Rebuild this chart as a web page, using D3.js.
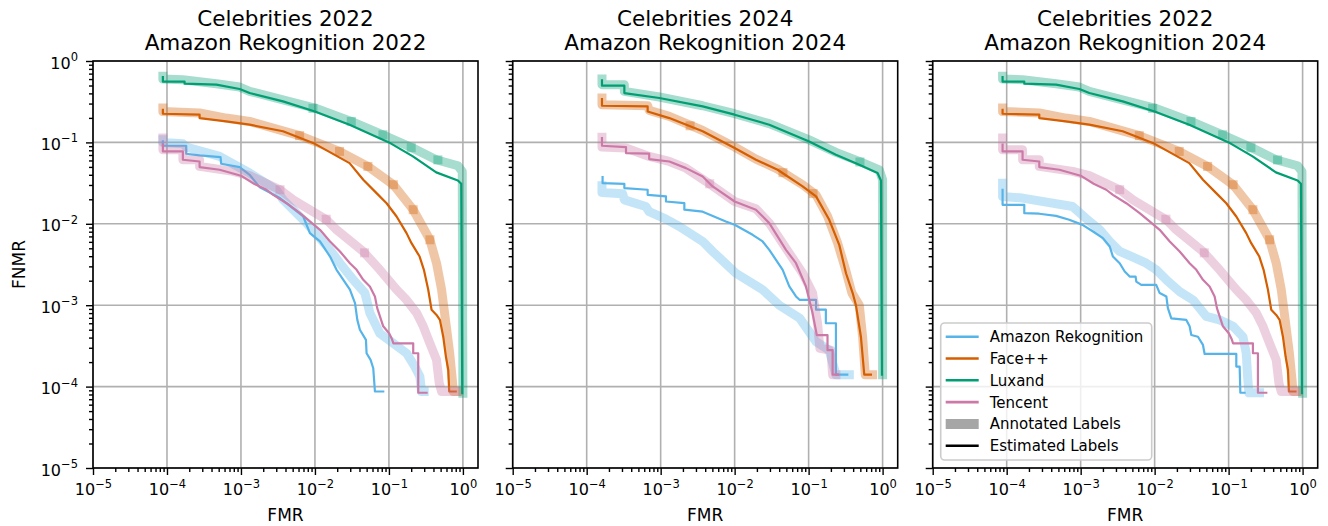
<!DOCTYPE html>
<html>
<head>
<meta charset="utf-8">
<script src="https://cdn.jsdelivr.net/npm/d3@7"></script>
<style>
  html, body { margin: 0; padding: 0; background: #fff; }
  svg { display: block; font-family: "DejaVu Sans", sans-serif; }
</style>
</head>
<body>
<svg id="chart" width="1328" height="526"></svg>
<script>
// ---- data: [FMR, FNMR] ----
const vendors = ["Amazon Rekognition", "Face++", "Luxand", "Tencent"];
const vendorColors = ["#56B4E9", "#D55E00", "#009E73", "#CC79A7"];
const titles = [
  ["Celebrities 2022", "Amazon Rekognition 2022"],
  ["Celebrities 2024", "Amazon Rekognition 2024"],
  ["Celebrities 2022", "Amazon Rekognition 2024"]
];
const decadeTicks = [1e-5, 1e-4, 1e-3, 1e-2, 1e-1, 1];
const tickExponents = ["\u22125", "\u22124", "\u22123", "\u22122", "\u22121", "0"];

// Celebrities 2022 (shared by panels 1 and 3)
const luxandC22Est = [[8.8e-5,0.636],[8.8e-5,0.557],[1.73e-4,0.557],[1.73e-4,0.526],[4.65e-4,0.512],[9.6e-4,0.453],[1.31e-3,0.404],[3.7e-3,0.319],[0.01,0.24],[0.0294,0.165],[0.1,0.1],[0.211,0.0673],[0.436,0.0428],[0.855,0.0341],[0.95,0.031],[0.98,8.3e-5]];
const luxandC22Annot = [[8.8e-5,0.648],[8.8e-5,0.6],[1.64e-4,0.589],[4.65e-4,0.526],[9.6e-4,0.479],[1.31e-3,0.424],[0.01,0.264],[0.031,0.181],[0.083,0.124],[0.211,0.085],[0.436,0.0612],[0.855,0.0516],[0.98,0.044],[1.0,8.3e-5]];
const luxandC22Marks = [[9.4e-3,0.262],[0.031,0.181],[0.083,0.124],[0.2,0.086],[0.459,0.061]];

const faceppC22Est = [[8.8e-5,0.252],[8.8e-5,0.225],[2.76e-4,0.219],[2.76e-4,0.199],[6.3e-4,0.181],[1.31e-3,0.165],[3.7e-3,0.137],[0.01,0.096],[0.0294,0.0557],[0.045,0.0348],[0.068,0.0238],[0.093,0.0179],[0.127,0.0123],[0.173,0.00768],[0.202,0.00578],[0.26,0.00396],[0.297,0.00272],[0.34,0.00155],[0.377,8.8e-4],[0.44,7.6e-4],[0.489,6.6e-4],[0.542,4.1e-4],[0.589,2.34e-4],[0.634,1.6e-4],[0.653,8.7e-5],[0.8,8.7e-5]];
const faceppC22Annot = [[8.8e-5,0.264],[8.8e-5,0.24],[2.76e-4,0.23],[6.3e-4,0.199],[1.31e-3,0.181],[6.2e-3,0.121],[0.0215,0.0775],[0.052,0.0507],[0.115,0.0302],[0.213,0.0149],[0.358,0.00636],[0.44,0.00328],[0.515,0.00155],[0.589,6.0e-4],[0.663,2.57e-4],[0.72,1.2e-4],[0.74,8.7e-5],[0.85,8.7e-5]];
const faceppC22Marks = [[6.2e-3,0.121],[0.0215,0.0775],[0.052,0.0507],[0.115,0.0302],[0.213,0.0149],[0.358,0.00636]];

const tencentC22Est = [[8.8e-5,0.094],[8.8e-5,0.0775],[1.64e-4,0.0775],[1.64e-4,0.0612],[2.76e-4,0.0583],[2.76e-4,0.0498],[5.15e-4,0.0461],[1e-3,0.039],[1.5e-3,0.031],[2.22e-3,0.0262],[2.73e-3,0.0227],[4.14e-3,0.0179],[6.27e-3,0.0135],[8.55e-3,0.0107],[0.0117,0.00844],[0.016,0.00607],[0.0218,0.00457],[0.0297,0.00328],[0.0366,0.00272],[0.045,0.00205],[0.0553,0.0017],[0.0647,0.00128],[0.0695,9.2e-4],[0.0838,5.5e-4],[0.101,4.5e-4],[0.109,3.9e-4],[0.115,3.4e-4],[0.213,3.4e-4],[0.213,2.57e-4],[0.249,2.57e-4],[0.249,8.4e-5],[0.323,8.4e-5]];
const tencentC22Annot = [[8.8e-5,0.113],[8.8e-5,0.0813],[1.64e-4,0.0813],[1.64e-4,0.0612],[2.76e-4,0.0612],[2.76e-4,0.0507],[7.8e-4,0.044],[1.31e-3,0.039],[3.37e-3,0.0262],[5.09e-3,0.0197],[0.0144,0.0112],[0.0196,0.00844],[0.045,0.00457],[0.0755,0.00272],[0.127,0.00155],[0.173,0.00116],[0.237,8.0e-4],[0.291,5.5e-4],[0.358,3.4e-4],[0.44,2.13e-4],[0.479,1.1e-4],[0.515,8.7e-5],[0.82,8.7e-5]];
const tencentC22Marks = [[3.37e-3,0.0262],[0.0142,0.0114],[0.0469,0.0044]];

// panel 1: Amazon Rekognition 2022
const amazonP1Est = [[8.8e-5,0.103],[8.8e-5,0.091],[1.82e-4,0.091],[1.82e-4,0.0726],[2.76e-4,0.0692],[5.3e-4,0.066],[5.4e-4,0.0547],[9.6e-4,0.0498],[1.31e-3,0.04],[1.8e-3,0.028],[3.37e-3,0.0207],[6.95e-3,0.0123],[8.55e-3,0.00768],[0.0117,0.00607],[0.016,0.00396],[0.0196,0.00272],[0.0242,0.00205],[0.0297,0.00155],[0.0348,0.00106],[0.0374,6.6e-4],[0.0405,5.0e-4],[0.0489,3.75e-4],[0.0499,2.57e-4],[0.0565,2.13e-4],[0.0614,1.68e-4],[0.0647,8.7e-5],[0.0838,8.7e-5]];
const amazonP1Annot = [[8.8e-5,0.108],[8.8e-5,0.1],[1.64e-4,0.096],[1.82e-4,0.0877],[5.15e-4,0.0673],[8.65e-4,0.0516],[1.31e-3,0.042],[3.0e-3,0.0262],[3.73e-3,0.0197],[7.7e-3,0.0102],[0.016,0.00479],[0.0218,0.00328],[0.033,0.00205],[0.0474,0.00141],[0.0553,8.0e-4],[0.0755,4.5e-4],[0.115,3.4e-4],[0.173,2.57e-4],[0.224,1.76e-4],[0.262,1.33e-4],[0.276,8.7e-5],[0.3,8.7e-5]];

// panel 2: Celebrities 2024 / Amazon Rekognition 2024
const luxandP2Est = [[1.61e-4,0.578],[1.61e-4,0.497],[3.23e-4,0.497],[3.23e-4,0.404],[9.6e-4,0.351],[3.7e-3,0.277],[0.01,0.219],[0.0294,0.165],[0.1,0.103],[0.234,0.0705],[0.484,0.0531],[0.855,0.042],[0.95,0.0341],[0.98,1.4e-4]];
const luxandP2Annot = [[1.61e-4,0.6],[1.61e-4,0.512],[3.23e-4,0.512],[3.23e-4,0.424],[9.6e-4,0.361],[3.7e-3,0.282],[0.01,0.225],[0.0294,0.17],[0.1,0.108],[0.234,0.0754],[0.484,0.0584],[0.9,0.0461],[1.0,0.0348],[1.0,1.4e-4]];
const luxandP2Marks = [[0.494,0.0575]];
const faceppP2Est = [[1.61e-4,0.341],[1.61e-4,0.282],[6.67e-4,0.277],[6.67e-4,0.24],[1.31e-3,0.199],[3.7e-3,0.137],[0.01,0.0852],[0.0194,0.0612],[0.0381,0.0461],[0.083,0.0288],[0.126,0.0217],[0.19,0.0112],[0.26,0.00547],[0.32,0.00247],[0.394,0.00141],[0.436,0.001],[0.509,4.1e-4],[0.565,1.4e-4],[0.695,1.4e-4]];
const faceppP2Annot = [[1.61e-4,0.351],[1.61e-4,0.29],[6.67e-4,0.282],[7.0e-4,0.247],[1.31e-3,0.209],[3.7e-3,0.14],[0.01,0.0877],[0.0194,0.0624],[0.0381,0.047],[0.083,0.0302],[0.126,0.0227],[0.181,0.0123],[0.247,0.00578],[0.313,0.00282],[0.385,0.00141],[0.484,0.001],[0.537,4.1e-4],[0.583,1.4e-4],[0.733,1.4e-4]];
const faceppP2Marks = [[2.5e-3,0.16],[0.045,0.0425],[0.115,0.0235]];
const tencentP2Est = [[1.61e-4,0.113],[1.61e-4,0.091],[3.4e-4,0.0877],[3.4e-4,0.0739],[7.0e-4,0.0726],[7.0e-4,0.0624],[1.31e-3,0.0583],[2.2e-3,0.0483],[3.7e-3,0.0382],[5.05e-3,0.0288],[0.01,0.0188],[0.0194,0.0149],[0.0294,0.0102],[0.0494,0.00479],[0.0675,0.00328],[0.092,0.0017],[0.113,8.0e-4],[0.129,4.3e-4],[0.18,4.3e-4],[0.18,2.8e-4],[0.211,2.8e-4],[0.211,1.4e-4],[0.249,1.4e-4]];
const tencentP2Annot = [[1.61e-4,0.116],[1.61e-4,0.0877],[3.4e-4,0.0852],[7.0e-4,0.0673],[1.31e-3,0.0583],[2.2e-3,0.0483],[4.1e-3,0.0332],[0.01,0.0188],[0.0194,0.0153],[0.0294,0.0102],[0.0494,0.00502],[0.083,0.00247],[0.113,0.00141],[0.132,6.0e-4],[0.142,2.96e-4],[0.2,2.8e-4],[0.211,1.4e-4],[0.234,1.4e-4]];
const tencentP2Marks = [[4.6e-3,0.031]];
const amazonP2Est = [[1.64e-4,0.0375],[1.64e-4,0.0316],[3.23e-4,0.031],[3.23e-4,0.0275],[6.67e-4,0.0262],[6.67e-4,0.0227],[1.18e-3,0.0217],[1.18e-3,0.0188],[2.09e-3,0.0179],[2.09e-3,0.0149],[3.7e-3,0.0141],[7.6e-3,0.0107],[0.01,0.00972],[0.0175,0.00732],[0.0239,0.00607],[0.0294,0.00479],[0.0362,0.00361],[0.0446,0.00272],[0.0548,0.0017],[0.0675,0.00128],[0.076,0.00116],[0.126,0.00116],[0.126,8.8e-4],[0.171,8.8e-4],[0.171,6.0e-4],[0.234,6.0e-4],[0.234,1.4e-4],[0.333,1.4e-4]];
const amazonP2Annot = [[1.61e-4,0.0293],[1.61e-4,0.0243],[3.06e-4,0.0234],[3.23e-4,0.0197],[6.3e-4,0.0163],[7.0e-4,0.0141],[1.18e-3,0.0114],[1.79e-3,0.00927],[3.7e-3,0.00607],[5.05e-3,0.00457],[0.0104,0.00247],[0.0239,0.00155],[0.0402,0.001],[0.076,6.9e-4],[0.126,3.57e-4],[0.19,2.8e-4],[0.234,1.4e-4],[0.355,1.4e-4]];

// panel 3: Amazon Rekognition 2024 on Celebrities 2022
const amazonP3Est = [[8.8e-5,0.0262],[8.8e-5,0.0171],[1.73e-4,0.0171],[1.73e-4,0.0135],[2.76e-4,0.0133],[4.65e-4,0.0125],[7.0e-4,0.0112],[1.06e-3,0.0097],[1.47e-3,0.00805],[2.0e-3,0.00667],[2.47e-3,0.00526],[2.73e-3,0.00396],[3.37e-3,0.00328],[3.94e-3,0.00259],[4.6e-3,0.00225],[5.53e-3,0.00225],[5.65e-3,0.00195],[6.6e-3,0.00178],[0.0105,0.00178],[0.0117,0.00141],[0.0144,0.00128],[0.0151,9.2e-4],[0.0168,6.9e-4],[0.0268,6.6e-4],[0.0297,5.5e-4],[0.0313,4.3e-4],[0.0385,4.1e-4],[0.045,3.25e-4],[0.0474,2.52e-4],[0.127,2.52e-4],[0.127,1.76e-4],[0.141,1.76e-4],[0.144,8.4e-5],[0.164,8.4e-5]];
const amazonP3Annot = [[8.8e-5,0.0316],[8.8e-5,0.0217],[1.64e-4,0.0207],[7.8e-4,0.0163],[1.2e-3,0.0115],[1.81e-3,0.00844],[2.47e-3,0.00607],[3.37e-3,0.00457],[5.09e-3,0.00389],[7.7e-3,0.00328],[0.0105,0.00272],[0.0144,0.00205],[0.0218,0.00147],[0.033,0.00116],[0.0499,7.3e-4],[0.0755,6.6e-4],[0.115,5.5e-4],[0.156,4.1e-4],[0.173,2.57e-4],[0.182,1.21e-4],[0.188,8.4e-5],[0.262,8.4e-5]];

const panels = [
  { title: titles[0], showY: true,
    annot: [amazonP1Annot, faceppC22Annot, luxandC22Annot, tencentC22Annot],
    est: [amazonP1Est, faceppC22Est, luxandC22Est, tencentC22Est],
    marks: [[], faceppC22Marks, luxandC22Marks, tencentC22Marks] },
  { title: titles[1], showY: false,
    annot: [amazonP2Annot, faceppP2Annot, luxandP2Annot, tencentP2Annot],
    est: [amazonP2Est, faceppP2Est, luxandP2Est, tencentP2Est],
    marks: [[], faceppP2Marks, luxandP2Marks, tencentP2Marks] },
  { title: titles[2], showY: false, legend: true,
    annot: [amazonP3Annot, faceppC22Annot, luxandC22Annot, tencentC22Annot],
    est: [amazonP3Est, faceppC22Est, luxandC22Est, tencentC22Est],
    marks: [[], faceppC22Marks, luxandC22Marks, tencentC22Marks] }
];

// ---- layout ----
const svg = d3.select("#chart");
const lefts = [93, 512.7, 932.7];
const plotW = 385, plotTop = 61, plotH = 407;
const annotW = 9, estW = 2.2, annotAlpha = 0.35;

const minorTicks = [];
for (let e = -5; e <= 0; e++) for (let m = 2; m <= 9; m++) minorTicks.push(m * Math.pow(10, e));

function expLabel(sel, exp) {
  sel.text(null);
  sel.append("tspan").text("10");
  sel.append("tspan").attr("dy", -7.5).attr("font-size", 11.5).text(exp);
}

panels.forEach((p, i) => {
  const x0 = lefts[i];
  const x = d3.scaleLog().domain([1e-5, 1.6]).range([x0, x0 + plotW]);
  const y = d3.scaleLog().domain([1e-5, 1]).range([plotTop + plotH, plotTop]);
  const g = svg.append("g");

  g.append("clipPath").attr("id", "clip" + i)
    .append("rect").attr("x", x0).attr("y", plotTop).attr("width", plotW).attr("height", plotH);

  // grid
  g.append("g").selectAll("line").data(decadeTicks).join("line")
    .attr("x1", d => x(d)).attr("x2", d => x(d)).attr("y1", plotTop).attr("y2", plotTop + plotH)
    .attr("stroke", "#b0b0b0").attr("stroke-width", 1.6);
  g.append("g").selectAll("line").data(decadeTicks).join("line")
    .attr("x1", x0).attr("x2", x0 + plotW).attr("y1", d => y(d)).attr("y2", d => y(d))
    .attr("stroke", "#b0b0b0").attr("stroke-width", 1.6);

  // curves
  const line = d3.line().x(d => x(d[0])).y(d => y(d[1]));
  const curves = g.append("g").attr("clip-path", `url(#clip${i})`);
  vendors.forEach((v, k) => {
    curves.append("path").attr("d", line(p.annot[k]))
      .attr("fill", "none").attr("stroke", vendorColors[k])
      .attr("stroke-opacity", annotAlpha).attr("stroke-width", annotW)
      .attr("stroke-linecap", "square").attr("stroke-linejoin", "round");
    curves.append("g").selectAll("rect").data(p.marks[k]).join("rect")
      .attr("x", d => x(d[0]) - annotW / 2).attr("y", d => y(d[1]) - annotW / 2)
      .attr("width", annotW).attr("height", annotW)
      .attr("fill", vendorColors[k]).attr("fill-opacity", annotAlpha);
    curves.append("path").attr("d", line(p.est[k]))
      .attr("fill", "none").attr("stroke", vendorColors[k])
      .attr("stroke-width", estW)
      .attr("stroke-linecap", "square").attr("stroke-linejoin", "round");
  });

  // axes
  const xMajor = g.append("g").attr("transform", `translate(0,${plotTop + plotH})`)
    .call(d3.axisBottom(x).tickValues(decadeTicks).tickSize(7).tickPadding(6));
  xMajor.selectAll(".tick text")
    .attr("font-size", 16).attr("font-family", "DejaVu Sans").attr("fill", "#000")
    .attr("dy", null).attr("y", 27)
    .each(function(d, j) { expLabel(d3.select(this), tickExponents[j]); });
  g.append("g").attr("transform", `translate(0,${plotTop + plotH})`)
    .call(d3.axisBottom(x).tickValues(minorTicks.filter(v => v <= 1.6)).tickSize(4).tickFormat(""));

  const yMajor = g.append("g").attr("transform", `translate(${x0},0)`)
    .call(d3.axisLeft(y).tickValues(decadeTicks).tickSize(7));
  if (p.showY) {
    yMajor.selectAll(".tick text")
      .attr("font-size", 16).attr("font-family", "DejaVu Sans").attr("fill", "#000")
      .attr("dy", null).attr("x", -15).attr("y", 7)
      .each(function(d, j) { expLabel(d3.select(this), tickExponents[j]); });
  } else {
    yMajor.selectAll(".tick text").remove();
  }
  g.append("g").attr("transform", `translate(${x0},0)`)
    .call(d3.axisLeft(y).tickValues(minorTicks.filter(v => v < 1)).tickSize(4).tickFormat(""));

  g.selectAll(".domain").remove();
  g.selectAll(".tick line").attr("stroke", "#000").attr("stroke-width", 1.4);

  // spines
  g.append("rect").attr("x", x0).attr("y", plotTop).attr("width", plotW).attr("height", plotH)
    .attr("fill", "none").attr("stroke", "#000").attr("stroke-width", 1.6);

  // titles and labels
  const cx = x0 + plotW / 2;
  g.append("text").attr("x", cx).attr("y", 26).attr("text-anchor", "middle")
    .attr("font-size", 21.5).text(p.title[0]);
  g.append("text").attr("x", cx).attr("y", 50).attr("text-anchor", "middle")
    .attr("font-size", 21.5).text(p.title[1]);
  g.append("text").attr("x", cx).attr("y", 521).attr("text-anchor", "middle")
    .attr("font-size", 17).text("FMR");

  if (p.legend) {
    const lx = x0 + 8, ly = 323;
    const lg = g.append("g");
    lg.append("rect").attr("x", lx).attr("y", ly).attr("width", 211).attr("height", 137)
      .attr("rx", 4).attr("fill", "#fff").attr("fill-opacity", 0.8)
      .attr("stroke", "#cccccc").attr("stroke-width", 1.6);
    const entries = vendors.map((v, k) => ({ label: v, color: vendorColors[k], w: 2.6, op: 1 }))
      .concat([{ label: "Annotated Labels", color: "#000", w: 10, op: annotAlpha },
               { label: "Estimated Labels", color: "#000", w: 2.6, op: 1 }]);
    entries.forEach((e, k) => {
      const ry = ly + 13.7 + k * 21.8;
      lg.append("line").attr("x1", lx + 5).attr("x2", lx + 38).attr("y1", ry).attr("y2", ry)
        .attr("stroke", e.color).attr("stroke-opacity", e.op).attr("stroke-width", e.w);
      lg.append("text").attr("x", lx + 49).attr("y", ry).attr("dy", "0.36em")
        .attr("font-size", 15).text(e.label);
    });
  }
});

svg.append("text").attr("transform", `translate(25,${plotTop + plotH / 2}) rotate(-90)`)
  .attr("text-anchor", "middle").attr("font-size", 17).text("FNMR");
</script>
</body>
</html>
